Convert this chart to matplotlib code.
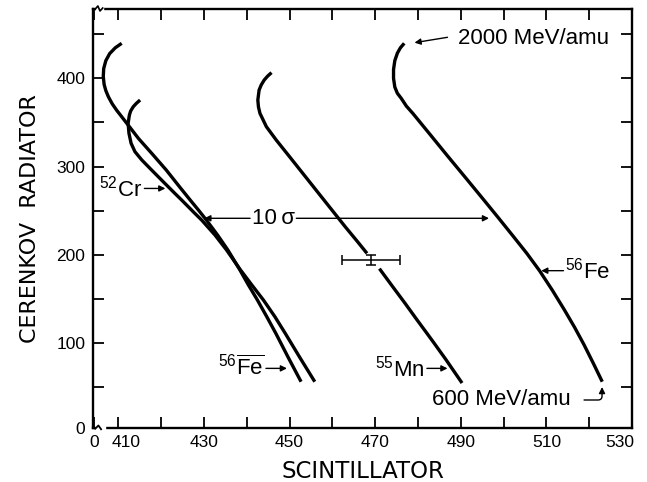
import matplotlib
matplotlib.use("Agg")
import matplotlib.pyplot as plt
from matplotlib.lines import Line2D
import matplotlib.transforms as mtrans

plt.rcParams['font.family'] = ['Liberation Sans', 'DejaVu Sans']
plt.rcParams['mathtext.fontset'] = 'custom'
plt.rcParams['mathtext.rm'] = 'Liberation Sans'
plt.rcParams['mathtext.it'] = 'Liberation Sans:italic'
plt.rcParams['mathtext.bf'] = 'Liberation Sans:bold'

# ---------------- data ----------------
# 56Fe-bar curve
febar_x = [410.8, 409.3, 408.0, 407.1, 406.6, 406.5, 406.7, 407.1, 407.7, 408.6, 409.6,
           412.0, 414.7, 417.8, 421.2, 424.6, 426.8, 428.7, 430.6, 433.2, 435.6,
           438.3, 440.4, 442.5, 444.7, 446.8, 449.7, 452.7]
febar_y = [439.6, 434.5, 428.0, 420.0, 411.0, 402.0, 393.0, 386.0, 379.0, 371.0, 364.0,
           349.0, 332.0, 315.1, 296.2, 275.4, 262.2, 251.0, 239.4, 222.5, 205.6,
           184.0, 166.0, 149.0, 130.0, 111.3, 84.0, 56.5]
# 52Cr curve
cr_x = [415.1, 414.2, 413.5, 412.9, 412.6, 412.3, 412.5, 413.0, 413.9, 415.5, 417.8,
        420.5, 423.2, 424.8, 427.7, 429.5, 432.6, 435.3, 438.4, 441.2, 443.9,
        446.6, 449.0, 452.4, 455.9]
cr_y = [375.4, 371.5, 367.8, 363.0, 358.4, 349.0, 337.7, 326.4, 316.9, 307.5, 296.1,
        282.9, 269.8, 262.2, 248.0, 239.4, 222.5, 205.6, 184.0, 166.0, 149.0,
        130.0, 111.3, 84.0, 56.5]
# 55Mn curve (interrupted by the error bar)
mn_upper_x = [445.8, 444.9, 444.1, 443.4, 442.9, 442.6, 442.75, 443.1, 444.6, 446.9,
              450.0, 453.1, 456.8, 459.9, 463.0, 465.9, 468.1]
mn_upper_y = [406.4, 402.5, 398.1, 392.5, 386.7, 375.4, 367.5, 360.3, 345.2, 330.1,
              311.3, 292.4, 269.8, 250.9, 232.0, 215.0, 201.8]
mn_lower_x = [471.0, 474.1, 477.0, 479.8, 482.1, 483.8, 486.6, 490.3]
mn_lower_y = [184.5, 164.1, 145.2, 126.4, 111.3, 100.0, 81.1, 55.0]
# 56Fe curve
fe_x = [476.8, 475.9, 475.2, 474.6, 474.3, 474.3, 474.6, 475.2, 476.1, 477.3, 478.8,
        482.9, 487.0, 491.2, 495.4, 498.8, 502.2, 505.4, 508.4, 511.4, 514.2,
        516.6, 518.8, 521.0, 523.05]
fe_y = [439.6, 434.5, 428.5, 420.0, 410.0, 400.0, 390.0, 383.0, 377.3, 368.5, 360.3,
        336.0, 311.6, 287.0, 262.2, 242.0, 221.5, 202.0, 182.2, 160.0, 137.9,
        118.0, 98.3, 77.0, 56.5]
# error bar point
err_x, err_y = [469.1], [194.3]
err_dx, err_dy = [6.8], [5.5]

# axis ticks
xtick_vals = [404.3, 410, 430, 450, 470, 490, 510, 530]
xtick_labels = ['0', '410', '430', '450', '470', '490', '510', '530']
xminor_vals = [420, 440, 460, 480, 500, 520]
ytick_vals = [4.3, 100, 200, 300, 400]
ytick_labels = ['0', '100', '200', '300', '400']
yminor_vals = [50, 150, 250, 350, 450]

# ---------------- figure ----------------
W, H = 647, 482
fig = plt.figure(figsize=(W / 100, H / 100), dpi=100)
L, R, T, B = 93, 632, 9.3, 428
ax = fig.add_axes([L / W, 1 - B / H, (R - L) / W, (B - T) / H])
ax.set_xlim(404.1, 529.9)
ax.set_ylim(4.1, 478.1)

lw = 2.4
for xs, ys in [(febar_x, febar_y), (cr_x, cr_y), (mn_upper_x, mn_upper_y),
               (mn_lower_x, mn_lower_y), (fe_x, fe_y)]:
    ax.plot(xs, ys, color='black', lw=lw, solid_capstyle='butt', solid_joinstyle='round')

ax.errorbar(err_x, err_y, xerr=err_dx, yerr=err_dy, fmt='none', ecolor='black',
            elinewidth=1.1, capsize=3.5, capthick=1.1)

# spines / ticks
for s in ax.spines.values():
    s.set_linewidth(1.7)
ax.set_xticks(xtick_vals)
ax.set_xticklabels(xtick_labels)
ax.set_xticks(xminor_vals, minor=True)
ax.set_yticks(ytick_vals)
ax.set_yticklabels(ytick_labels)
ax.set_yticks(yminor_vals, minor=True)
ax.tick_params(which='both', direction='in', top=True, right=True, length=8, width=1.3,
               labelsize=12.5)
ax.tick_params(axis='y', pad=5.5)
ax.tick_params(axis='x', pad=5)

xl = ax.get_xticklabels()
xl[1].set_transform(xl[1].get_transform() + mtrans.ScaledTranslation(8 / 100, 0, fig.dpi_scale_trans))
xl[-1].set_horizontalalignment('right')
xl[-1].set_transform(xl[-1].get_transform() + mtrans.ScaledTranslation(2 / 100, 0, fig.dpi_scale_trans))

# axis-break squiggles at the left corners
ax.add_patch(plt.Rectangle((0.006, -0.006), 0.016, 0.012, transform=ax.transAxes,
                           color='white', clip_on=False, zorder=5))
ax.add_line(Line2D([0.0, 0.004, 0.010, 0.015], [0.004, -0.002, 0.006, -0.003],
                   transform=ax.transAxes, color='black', lw=1.3, clip_on=False, zorder=6))
ax.add_patch(plt.Rectangle((0.006, 0.994), 0.012, 0.012, transform=ax.transAxes,
                           color='white', clip_on=False, zorder=5))
ax.add_line(Line2D([0.004, 0.009, 0.013, 0.018], [1.0, 1.008, 0.996, 1.003],
                   transform=ax.transAxes, color='black', lw=1.2, clip_on=False, zorder=6))

ax.set_xlabel('SCINTILLATOR', fontsize=16.5, family='DejaVu Sans', labelpad=7)
ax.set_ylabel('CERENKOV  RADIATOR', fontsize=16, family='DejaVu Sans', labelpad=12)

# ---------------- annotations ----------------
fs = 16
arr = dict(arrowstyle='-|>', color='black', lw=1.0, mutation_scale=9, shrinkA=0, shrinkB=0)

ax.text(489.4, 444.5, '2000 MeV/amu', fontsize=fs, ha='left', va='center')
ax.annotate('', xy=(479.2, 440.3), xytext=(486.9, 446.4), arrowprops=arr)

ax.text(483.3, 36.0, '600 MeV/amu', fontsize=fs, ha='left', va='center')
ax.annotate('', xy=(523.0, 50.5), xytext=(518.8, 35.8),
            arrowprops=dict(arr, connectionstyle='angle,angleA=0,angleB=90,rad=4'))

ax.text(514.4, 182.2, r'$^{56}\mathrm{Fe}$', fontsize=fs, ha='left', va='center')
ax.annotate('', xy=(508.8, 182.2), xytext=(514.0, 182.2), arrowprops=arr)

ax.text(481.6, 71.6, r'$^{55}\mathrm{Mn}$', fontsize=fs, ha='right', va='center')
ax.annotate('', xy=(486.9, 71.6), xytext=(482.1, 71.6), arrowprops=arr)

ax.text(444.0, 71.6, r'$^{56}\overline{\mathrm{Fe}}$', fontsize=fs, ha='right', va='center')
ax.annotate('', xy=(449.4, 71.6), xytext=(444.5, 71.6), arrowprops=arr)

ax.text(415.6, 275.3, r'$^{52}\mathrm{Cr}$', fontsize=fs, ha='right', va='center')
ax.annotate('', xy=(421.0, 275.3), xytext=(416.1, 275.3), arrowprops=arr)

ax.text(446.3, 241.5, '10\u2009σ', fontsize=fs, ha='center', va='center')
ax.annotate('', xy=(430.1, 241.5), xytext=(440.8, 241.5), arrowprops=arr)
ax.annotate('', xy=(496.6, 241.5), xytext=(451.6, 241.5), arrowprops=arr)

fig.savefig('out.png', dpi=100)
